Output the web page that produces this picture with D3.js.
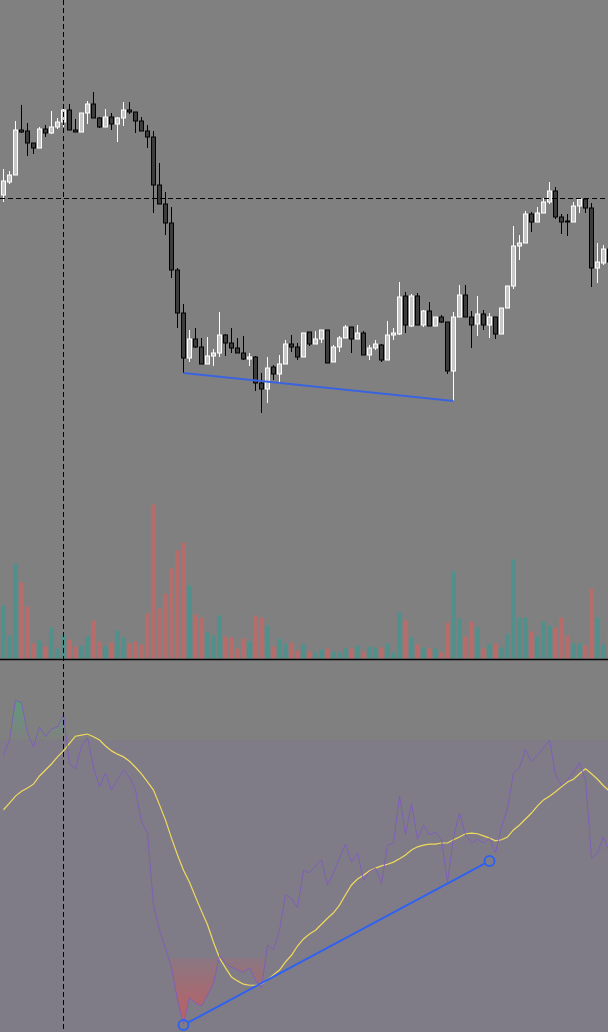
<!DOCTYPE html>
<html>
<head>
<meta charset="utf-8">
<script src="https://cdn.jsdelivr.net/npm/d3@7"></script>
<style>
  html, body { margin: 0; padding: 0; background: #808080; }
  svg { display: block; }
</style>
</head>
<body>
<div id="chart"></div>
<script>
// Candles (price units), one entry per bar
const opens = [305,318,325,370,369,357,352,371,367,373,378,390,370,368,387,396,382,373,383,376,
  382,390,388,379,369,363,315,296,277,230,187,142,161,153,136,144,147,165,157,152,
  147,141,143,117,111,133,126,136,156,153,143,168,156,161,170,138,153,162,173,161,
  167,145,152,155,140,165,166,204,174,204,175,189,174,183,178,129,183,205,183,176,
  186,175,183,166,192,214,254,257,286,278,287,298,309,283,279,278,294,301,292,232,
  237,251];
const highs = [331,329,379,395,377,357,373,375,389,382,395,396,381,387,399,408,383,391,387,383,
  398,398,388,383,375,369,337,308,293,232,196,170,172,162,163,151,188,166,172,162,
  164,147,144,127,143,135,145,160,165,157,167,168,169,170,170,155,164,175,173,175,
  169,155,160,156,179,172,218,208,206,207,190,198,183,185,178,188,215,215,189,204,
  190,187,183,192,214,274,265,289,288,293,302,318,313,286,286,298,301,301,297,257,
  255,255];
const lows = [298,316,325,367,344,346,352,363,366,371,373,370,368,368,376,382,372,373,370,358,
  374,386,367,369,352,287,296,265,222,172,127,138,152,136,136,134,143,144,147,147,
  140,134,109,87,97,120,116,136,148,140,143,154,156,157,137,138,148,162,147,161,
  145,140,150,138,140,160,165,167,173,175,173,174,174,177,126,99,183,183,152,164,
  170,162,161,166,192,211,240,257,268,278,287,296,281,266,264,278,287,287,213,217,
  235,235];
const closes = [319,325,370,368,357,352,371,367,373,378,390,370,368,387,396,382,373,383,376,382,
  390,388,379,369,363,315,296,277,230,187,142,161,153,136,144,147,165,157,152,147,
  141,143,117,111,132,126,136,156,153,143,167,156,161,170,137,153,162,173,161,167,
  145,152,156,140,165,167,203,175,204,175,189,174,183,178,129,183,205,183,175,186,
  175,183,166,192,214,254,257,286,278,287,298,309,283,278,278,294,301,292,232,238,
  251,238];
const volumes = [530,230,950,760,520,150,180,120,310,100,240,190,120,130,220,380,170,120,160,280,
  210,150,170,140,450,1540,500,650,900,1080,1160,730,440,410,260,230,430,220,210,100,
  200,170,430,410,330,120,200,150,160,80,140,70,60,90,100,70,60,100,100,130,
  70,120,110,110,150,60,460,380,210,140,110,100,100,60,360,870,400,220,370,310,
  100,150,150,110,250,990,410,410,270,220,370,330,310,410,230,150,150,130,700,410,
  140,250];

// RSI and its moving average
const rsi = [67.2,70.0,77.3,76.8,71.3,68.7,72.4,70.6,72.0,72.4,74.6,65.6,64.7,68.9,70.4,65.0,61.4,63.9,60.8,62.7,
  64.5,63.2,60.8,55.0,52.9,39.7,35.1,31.8,28.2,22.3,17.9,22.8,21.7,21.2,23.2,25.4,30.5,29.1,28.3,27.8,
  27.4,28.2,26.0,24.5,32.4,31.5,35.1,41.6,41.0,39.2,46.1,45.6,46.9,48.0,43.4,45.6,48.3,50.9,47.6,49.3,
  44.3,45.8,46.5,43.6,50.7,51.1,59.7,52.6,58.3,51.8,54.4,52.6,53.1,51.7,43.9,52.2,56.6,52.6,51.1,51.8,
  51.1,52.0,49.3,54.0,57.5,63.9,64.9,68.2,66.0,67.2,68.5,70.0,63.6,61.7,62.7,64.1,65.8,62.7,48.3,49.3,
  52.2,49.3];
const rsiMa = [57.2,58.4,59.7,60.6,61.2,61.9,63.4,64.5,65.6,66.9,68.0,69.4,70.7,70.9,71.1,70.6,70.0,68.9,68.0,67.4,
  66.9,66.1,65.0,63.8,62.3,60.8,58.1,55.3,52.0,48.9,46.1,43.9,41.2,38.6,36.1,32.9,30.0,28.2,26.5,25.8,
  25.2,25.0,25.0,25.2,26.0,26.9,27.8,29.3,30.5,32.2,33.5,34.4,35.1,36.2,37.3,38.3,39.7,41.6,43.4,44.5,
  45.2,46.0,46.5,46.9,47.2,47.6,48.2,48.9,49.8,50.4,50.7,50.9,50.9,51.1,51.1,51.7,52.2,52.8,52.9,52.8,
  52.4,52.0,51.5,51.7,52.2,53.5,54.4,55.5,56.6,57.9,59.0,59.7,60.5,61.4,62.3,62.8,63.8,64.7,63.8,62.8,
  61.6,60.6];
const rsiBands = [70, 50, 30];

// Drawings: [bar index, value]
const priceTrend = [[30, 127], [75, 99]];
const rsiTrend = [[30, 17.7], [81, 47.8]];
const crossBar = 10;
const crossPrice = 302;

const W = 608, H = 1032;
const paneSplit = 659;

const x = d3.scaleLinear().domain([0, 101]).range([3.5, 609.5]);
const yPrice = d3.scaleLinear().domain([100, 400]).range([400, 100]);
const yVol = d3.scaleLinear().domain([0, 1600]).range([658.5, 498.5]);
const yRsi = d3.scaleLinear().domain([30, 70]).range([958, 740]);

const svg = d3.select("#chart").append("svg")
  .attr("width", W).attr("height", H);

const defs = svg.append("defs");

svg.append("rect").attr("width", W).attr("height", H).attr("fill", "#808080");

// ---- RSI pane ----
const rsiPane = svg.append("g");

// tinted zone below the 70 band
rsiPane.append("rect")
  .attr("x", 0).attr("width", W)
  .attr("y", yRsi(70)).attr("height", H - yRsi(70))
  .attr("fill", "rgba(126,87,194,0.1)");

// gradients for overbought / oversold fills
const gOver = defs.append("linearGradient").attr("id", "gOver")
  .attr("gradientUnits", "userSpaceOnUse")
  .attr("x1", 0).attr("x2", 0).attr("y1", yRsi(70)).attr("y2", yRsi(100));
gOver.append("stop").attr("offset", 0).attr("stop-color", "#00e676").attr("stop-opacity", 0);
gOver.append("stop").attr("offset", 1).attr("stop-color", "#00e676").attr("stop-opacity", 1);

const gUnder = defs.append("linearGradient").attr("id", "gUnder")
  .attr("gradientUnits", "userSpaceOnUse")
  .attr("x1", 0).attr("x2", 0).attr("y1", yRsi(30)).attr("y2", yRsi(10));
gUnder.append("stop").attr("offset", 0).attr("stop-color", "#ff4040").attr("stop-opacity", 0.08);
gUnder.append("stop").attr("offset", 1).attr("stop-color", "#ff4040").attr("stop-opacity", 0.75);

defs.append("clipPath").attr("id", "clipOver").append("rect")
  .attr("x", 0).attr("width", W).attr("y", 0).attr("height", yRsi(70));
defs.append("clipPath").attr("id", "clipUnder").append("rect")
  .attr("x", 0).attr("width", W).attr("y", yRsi(30)).attr("height", H);

const rsiArea = d3.area()
  .x((d, i) => x(i))
  .y0(yRsi(50))
  .y1((d) => yRsi(d));

rsiPane.append("path").datum(rsi)
  .attr("d", rsiArea).attr("fill", "url(#gOver)")
  .attr("clip-path", "url(#clipOver)");
rsiPane.append("path").datum(rsi)
  .attr("d", rsiArea).attr("fill", "url(#gUnder)")
  .attr("clip-path", "url(#clipUnder)");

// band lines
rsiPane.selectAll(".band").data(rsiBands).join("line")
  .attr("x1", 0).attr("x2", W)
  .attr("y1", (d) => yRsi(d)).attr("y2", (d) => yRsi(d))
  .attr("stroke", "#787b86")
  .attr("stroke-opacity", 0.2)
  .attr("stroke-dasharray", "4,4");

const rsiLine = d3.line().x((d, i) => x(i)).y((d) => yRsi(d));

rsiPane.append("path").datum(rsiMa)
  .attr("d", rsiLine)
  .attr("fill", "none")
  .attr("stroke", "#f0da5c")
  .attr("stroke-width", 1.2);

rsiPane.append("path").datum(rsi)
  .attr("d", rsiLine)
  .attr("fill", "none")
  .attr("stroke", "#7e57c2")
  .attr("stroke-opacity", 0.8)
  .attr("stroke-width", 1);

// divergence line with end circles
const r = 5;
const p0 = [x(rsiTrend[0][0]), yRsi(rsiTrend[0][1])];
const p1 = [x(rsiTrend[1][0]), yRsi(rsiTrend[1][1])];
const len = Math.hypot(p1[0] - p0[0], p1[1] - p0[1]);
const ux = (p1[0] - p0[0]) / len, uy = (p1[1] - p0[1]) / len;
rsiPane.append("line")
  .attr("x1", p0[0] + ux * r).attr("y1", p0[1] + uy * r)
  .attr("x2", p1[0] - ux * r).attr("y2", p1[1] - uy * r)
  .attr("stroke", "#2f62f0").attr("stroke-width", 2);
rsiPane.selectAll(".end").data([p0, p1]).join("circle")
  .attr("cx", (d) => d[0]).attr("cy", (d) => d[1]).attr("r", r)
  .attr("fill", "none").attr("stroke", "#2f62f0").attr("stroke-width", 2);

// ---- volume ----
const bars = d3.range(opens.length);
svg.append("g").selectAll("rect").data(bars).join("rect")
  .attr("x", (i) => x(i) - 2.5)
  .attr("width", 5)
  .attr("y", (i) => yVol(volumes[i]))
  .attr("height", (i) => yVol(0) - yVol(volumes[i]))
  .attr("fill", (i) => (closes[i] >= opens[i] ? "#52918b" : "#b66c6a"));

// ---- candles ----
const candles = svg.append("g");
candles.selectAll("line").data(bars).join("line")
  .attr("x1", (i) => x(i)).attr("x2", (i) => x(i))
  .attr("y1", (i) => yPrice(highs[i])).attr("y2", (i) => yPrice(lows[i]))
  .attr("stroke", (i) => (closes[i] >= opens[i] ? "#ffffff" : "#000000"))
  .attr("stroke-width", 1);
candles.selectAll("rect").data(bars).join("rect")
  .attr("x", (i) => x(i) - 2)
  .attr("width", 4)
  .attr("y", (i) => yPrice(Math.max(opens[i], closes[i])))
  .attr("height", (i) => Math.max(1, Math.abs(yPrice(opens[i]) - yPrice(closes[i]))))
  .attr("fill", (i) => (closes[i] >= opens[i] ? "#c8c8c8" : "#3c3c3c"))
  .attr("stroke", (i) => (closes[i] >= opens[i] ? "#ffffff" : "#000000"))
  .attr("stroke-width", 1);

// price trend line
svg.append("line")
  .attr("x1", x(priceTrend[0][0])).attr("y1", yPrice(priceTrend[0][1]))
  .attr("x2", x(priceTrend[1][0])).attr("y2", yPrice(priceTrend[1][1]))
  .attr("stroke", "#3a63e0").attr("stroke-width", 2);

// pane separator
svg.append("line")
  .attr("x1", 0).attr("x2", W)
  .attr("y1", paneSplit + 0.5).attr("y2", paneSplit + 0.5)
  .attr("stroke", "#000").attr("stroke-width", 1.5);

// crosshair
svg.append("line")
  .attr("x1", 0).attr("x2", W)
  .attr("y1", Math.round(yPrice(crossPrice)) + 0.5).attr("y2", Math.round(yPrice(crossPrice)) + 0.5)
  .attr("stroke", "#000").attr("stroke-dasharray", "5,3");
svg.append("line")
  .attr("x1", x(crossBar)).attr("x2", x(crossBar))
  .attr("y1", 0).attr("y2", H)
  .attr("stroke", "#000").attr("stroke-dasharray", "5,3");
</script>
</body>
</html>
